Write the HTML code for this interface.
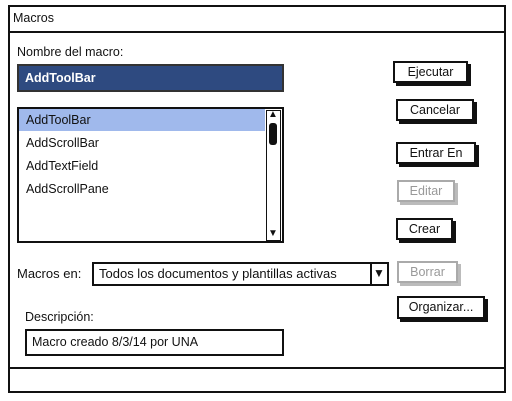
<!DOCTYPE html>
<html><head><meta charset="utf-8"><style>
body{margin:0;width:512px;height:401px;background:#fff;position:relative;overflow:hidden;font-family:"Liberation Sans",sans-serif;font-size:12.5px;color:#111}
.a{position:absolute;box-sizing:border-box}
.t{position:absolute;white-space:nowrap}
.btn{position:absolute;box-sizing:border-box;border:2px solid #111;background:#fff;box-shadow:3px 3px 0 #111;text-align:center;line-height:18px}
.dis{border-color:#aaa;color:#999;box-shadow:3px 3px 0 #bbb}
</style></head><body>
<div class="a" style="left:8px;top:5px;width:498px;height:388px;border:2px solid #111"></div>
<div class="a" style="left:8px;top:31px;width:498px;height:2px;background:#111"></div>
<div class="t" style="left:13px;top:11px">Macros</div>
<div class="t" style="left:17px;top:45px">Nombre del macro:</div>
<div class="a" style="left:17px;top:64px;width:267px;height:28px;background:#2e4a80;border:2px solid #333"></div>
<div class="t" style="left:25px;top:71px;color:#fff;font-weight:bold">AddToolBar</div>
<div class="a" style="left:17px;top:107px;width:267px;height:136px;border:2px solid #111"></div>
<div class="a" style="left:19px;top:109px;width:246px;height:22px;background:#a0b9ec"></div>
<div class="t" style="left:26px;top:113px">AddToolBar</div>
<div class="t" style="left:26px;top:136px">AddScrollBar</div>
<div class="t" style="left:26px;top:159px">AddTextField</div>
<div class="t" style="left:26px;top:182px">AddScrollPane</div>
<div class="a" style="left:266px;top:110px;width:15px;height:131px;border:1.5px solid #111"></div>
<div class="t" style="left:268px;top:109px;font-size:10px">▲</div>
<div class="a" style="left:269px;top:123px;width:8px;height:22px;background:#111;border-radius:3px"></div>
<div class="t" style="left:268px;top:228px;font-size:10px">▼</div>
<div class="t" style="left:17px;top:266px;font-size:13px">Macros en:</div>
<div class="a" style="left:92px;top:262px;width:297px;height:24px;border:2px solid #111"></div>
<div class="a" style="left:370px;top:262px;width:2px;height:24px;background:#111"></div>
<div class="t" style="left:99px;top:266px;font-size:13px">Todos los documentos y plantillas activas</div>
<div class="t" style="left:373px;top:266px;font-size:12px">▼</div>
<div class="t" style="left:25px;top:310px">Descripción:</div>
<div class="a" style="left:25px;top:329px;width:259px;height:27px;border:2px solid #111"></div>
<div class="t" style="left:32px;top:335px">Macro creado 8/3/14 por UNA</div>
<div class="a" style="left:8px;top:367px;width:498px;height:2px;background:#111"></div>
<div class="btn" style="left:393px;top:61px;width:75px;height:22px">Ejecutar</div>
<div class="btn" style="left:396px;top:99px;width:78px;height:22px">Cancelar</div>
<div class="btn" style="left:396px;top:142px;width:80px;height:22px">Entrar En</div>
<div class="btn dis" style="left:397px;top:180px;width:58px;height:22px">Editar</div>
<div class="btn" style="left:396px;top:218px;width:57px;height:22px">Crear</div>
<div class="btn dis" style="left:397px;top:261px;width:61px;height:22px">Borrar</div>
<div class="btn" style="left:397px;top:296px;width:88px;height:23px">Organizar...</div>
</body></html>
